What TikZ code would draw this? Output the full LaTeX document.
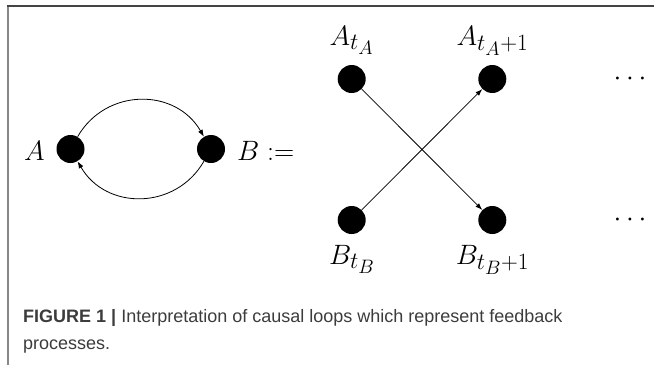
\documentclass[tikz,border=0pt]{standalone}
\usepackage{fontspec}
\newfontfamily\capfont{Liberation Sans}
\usetikzlibrary{arrows.meta}
\definecolor{topgray}{HTML}{444444}
\definecolor{leftgray}{HTML}{888888}
\definecolor{captext}{HTML}{3C3C3C}
\tikzset{
  dotnode/.style={circle,fill=black,draw=none,minimum size=28pt,inner sep=0pt},
  mathlbl/.style={inner sep=0pt,font=\Huge,scale=1.125,transform shape},
  arr/.style={line width=0.8pt,-{Latex[length=7pt,width=5pt]}},
  capline/.style={inner sep=0pt,anchor=base west,text=captext},
  topline/.style={draw=topgray,line width=2pt},
  leftline/.style={draw=leftgray,line width=2pt}
}
\newcommand{\capsize}{\capfont\fontsize{18}{22}\selectfont}
\begin{document}
\begin{tikzpicture}[x=1pt,y=-1pt]
\useasboundingbox (0,0) rectangle (654,365);
% frame
\coordinate (fr1) at (8,365);
\coordinate (fr2) at (8,5);
\coordinate (fr2b) at (7,6);
\coordinate (fr3) at (654,6);
\draw[leftline] (fr1) -- (fr2);
\draw[topline] (fr2b) -- (fr3);
% left loop
\node[dotnode] (a) at (70.5,149) {};
\node[dotnode] (b) at (211,149) {};
\node[mathlbl,anchor=base east] (la) at (45,160) {$A$};
\node[mathlbl,anchor=base west] (lb) at (237,160) {$B :=$};
\draw[arr] (a) to[out=60,in=120,looseness=1.15] (b);
\draw[arr] (b) to[out=-120,in=-60,looseness=1.15] (a);
% unrolled
\node[dotnode] (at) at (351.7,79) {};
\node[dotnode] (at1) at (492.3,79) {};
\node[dotnode] (bt) at (351.7,220) {};
\node[dotnode] (bt1) at (492.3,220) {};
\node[mathlbl,anchor=base] (lat) at (351.7,45) {$A_{t_A}$};
\node[mathlbl,anchor=base] (lat1) at (492.5,45) {$A_{t_A+1}$};
\node[mathlbl,anchor=base] (lbt) at (352,264) {$B_{t_B}$};
\node[mathlbl,anchor=base] (lbt1) at (492.5,264) {$B_{t_B+1}$};
\draw[arr] (at) -- (bt1);
\draw[arr] (bt) -- (at1);
\node[mathlbl,anchor=base] (dots1) at (630,85) {$\cdots$};
\node[mathlbl,anchor=base] (dots2) at (630,226) {$\cdots$};
% caption
\node[capline] (cap1) at (23,322.5) {\capsize\textbf{FIGURE 1 |} Interpretation of causal loops which represent feedback};
\node[capline] (cap2) at (23,349) {\capsize processes.};
\end{tikzpicture}
\end{document}
